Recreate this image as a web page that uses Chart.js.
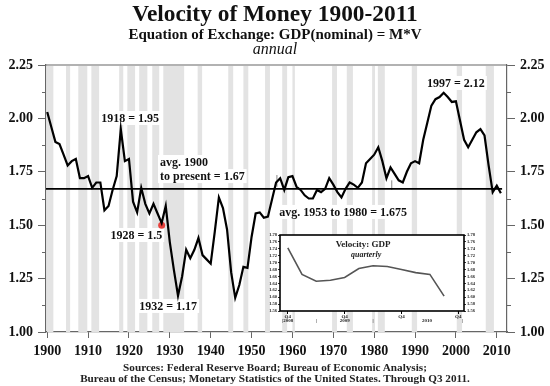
<!DOCTYPE html>
<html><head><meta charset="utf-8">
<script src="https://cdn.jsdelivr.net/npm/chart.js@4.4.0/dist/chart.umd.min.js"></script>
<style>
html,body{margin:0;padding:0;background:#fff;}
#wrap{position:relative;width:550px;height:386px;overflow:hidden;font-family:"Liberation Serif","Times New Roman",serif;color:#111;}
#main{position:absolute;left:0;top:0;}
#inset{position:absolute;left:258px;top:230px;}
.t{position:absolute;left:0;width:550px;text-align:center;white-space:nowrap;}
</style></head><body>
<div id="wrap">
<canvas id="main" width="550" height="386"></canvas>
<canvas id="inset" width="228" height="103"></canvas>
<div class="t" style="top:1.5px;font-size:23.4px;line-height:23.4px;font-weight:bold;">Velocity of Money 1900-2011</div>
<div class="t" style="top:27px;font-size:15px;line-height:15px;font-weight:bold;">Equation of Exchange: GDP(nominal) = M*V</div>
<div class="t" style="top:41px;font-size:16px;line-height:16px;font-style:italic;">annual</div>
<div class="t" style="top:361.6px;font-size:11.2px;line-height:11.2px;font-weight:bold;color:#222;">Sources: Federal Reserve Board; Bureau of Economic Analysis;</div>
<div class="t" style="top:372.6px;font-size:11.2px;line-height:11.2px;font-weight:bold;color:#222;">Bureau of the Census; Monetary Statistics of the United States. Through Q3 2011.</div>
</div>
<script>
// ---------- DATA ----------
const years = [
 1900,1901,1902,1903,1904,1905,1906,1907,1908,1909,
 1910,1911,1912,1913,1914,1915,1916,1917,1918,1919,
 1920,1921,1922,1923,1924,1925,1926,1927,1928,1929,
 1930,1931,1932,1933,1934,1935,1936,1937,1938,1939,
 1940,1941,1942,1943,1944,1945,1946,1947,1948,1949,
 1950,1951,1952,1953,1954,1955,1956,1957,1958,1959,
 1960,1961,1962,1963,1964,1965,1966,1967,1968,1969,
 1970,1971,1972,1973,1974,1975,1976,1977,1978,1979,
 1980,1981,1982,1983,1984,1985,1986,1987,1988,1989,
 1990,1991,1992,1993,1994,1995,1996,1997,1998,1999,
 2000,2001,2002,2003,2004,2005,2006,2007,2008,2009,
 2010,2011];
const velocity = [
 2.03,1.96,1.89,1.88,1.83,1.78,1.80,1.81,1.72,1.72,
 1.73,1.675,1.70,1.70,1.57,1.59,1.665,1.73,1.95,1.80,
 1.81,1.61,1.56,1.675,1.60,1.555,1.60,1.555,1.51,1.59,
 1.42,1.29,1.17,1.26,1.385,1.345,1.385,1.44,1.36,1.34,
 1.32,1.47,1.63,1.58,1.48,1.28,1.16,1.22,1.305,1.30,
 1.445,1.555,1.56,1.535,1.54,1.62,1.70,1.72,1.665,1.725,
 1.73,1.68,1.665,1.64,1.625,1.625,1.665,1.655,1.67,1.72,
 1.69,1.655,1.63,1.67,1.70,1.69,1.675,1.70,1.79,1.81,
 1.83,1.865,1.80,1.72,1.77,1.74,1.71,1.70,1.75,1.79,
 1.80,1.79,1.90,1.98,2.06,2.09,2.10,2.12,2.10,2.077,
 2.08,1.99,1.90,1.865,1.90,1.935,1.95,1.92,1.78,1.655,
 1.685,1.65];
const avgValue = 1.67;
const avgSpan = [1899.7, 2011.3];
const highlightPoint = [1928, 1.5];
const markerSegments = [[1956.2, 1.68, 1.735], [1984.3, 1.665, 1.71]];
const recessions = [
 [1899.8,1901.5],[1904.6,1905.6],[1907.6,1909.8],[1910.8,1912.7],[1917.6,1918.6],
 [1919.6,1921.5],[1922.5,1924.5],[1925.7,1927.4],[1928.4,1933.5],[1936.8,1937.9],
 [1944.3,1945.5],[1948.0,1949.2],[1953.3,1954.5],[1957.5,1958.7],[1960.0,1960.6],
 [1969.7,1970.9],[1973.3,1974.8],[1979.5,1980.2],[1980.9,1982.6],[1989.2,1990.5],
 [2000.2,2001.5],[2007.3,2009.3]];
const xTicks = [1900,1910,1920,1930,1940,1950,1960,1970,1980,1990,2000,2010];
const yTicks = [1.00,1.25,1.50,1.75,2.00,2.25];
const yMinorTicks = [1.125,1.375,1.625,1.875,2.125];

const insetQuarters = [0,1,2,3,4,5,6,7,8,9,10,11];
const insetVelocity = [1.743,1.666,1.646,1.649,1.657,1.683,1.691,1.689,1.680,1.671,1.666,1.603];
const insetYTicks = [1.56,1.58,1.60,1.62,1.64,1.66,1.68,1.70,1.72,1.74,1.76,1.78];
const insetXTicks = [0,4,8,12];
const insetXTickLabel = 'Q4';
const insetYearLabels = [['|2008',0],['|',2],['2009',4],['|',6],['2010',9.8],['|',12.3]];

// ---------- LABELS (placed in data coordinates) ----------
const annotations = [
 {text:'1918 = 1.95', x:1920.3, y:2.002, align:'center'},
 {text:'avg. 1900', x:1927.6, y:1.796, align:'left'},
 {text:'to present = 1.67', x:1927.6, y:1.730, align:'left'},
 {text:'1928 = 1.5', x:1921.8, y:1.454, align:'center'},
 {text:'1932 = 1.17', x:1929.6, y:1.122, align:'center'},
 {text:'avg. 1953 to 1980 = 1.675', x:1972.4, y:1.562, align:'center'},
 {text:'1997 = 2.12', x:2000.0, y:2.166, align:'center'}
];

const SERIF = '"Liberation Serif","Times New Roman",serif';
const AXIS = '#666';

const mainPlugin = {
  id:'mainDecor',
  beforeDatasetsDraw(chart){
    const {ctx, chartArea:a, scales:{x,y}} = chart;
    ctx.save();
    ctx.fillStyle = '#e3e3e3';
    recessions.forEach(([s,e])=>{
      const x0 = Math.max(x.getPixelForValue(s), a.left+1);
      const x1 = Math.min(x.getPixelForValue(e), a.right-1);
      ctx.fillRect(x0, a.top+1, x1-x0, a.bottom-a.top-1);
    });
    ctx.strokeStyle = AXIS; ctx.lineWidth = 1.2;
    ctx.beginPath(); ctx.moveTo(a.left, a.top); ctx.lineTo(a.right, a.top); ctx.stroke();
    ctx.lineWidth = 1;
    yMinorTicks.forEach(v=>{
      const py = Math.round(y.getPixelForValue(v))+0.5;
      ctx.beginPath(); ctx.moveTo(a.left-4, py); ctx.lineTo(a.left, py); ctx.stroke();
      ctx.beginPath(); ctx.moveTo(a.right, py); ctx.lineTo(a.right+4, py); ctx.stroke();
    });
    ctx.font = 'bold 12px ' + SERIF;
    ctx.textBaseline = 'middle';
    annotations.forEach(an=>{
      const w = ctx.measureText(an.text).width;
      const px = x.getPixelForValue(an.x), py = y.getPixelForValue(an.y);
      const left = an.align==='center' ? px - w/2 : px;
      ctx.fillStyle = '#fff';
      ctx.fillRect(left-2, py-7, w+4, 14);
      ctx.fillStyle = '#111';
      ctx.textAlign = 'left';
      ctx.fillText(an.text, left, py+0.5);
    });
    ctx.restore();
  }
};

const tickFont = {family:SERIF, size:14, weight:'bold'};
new Chart(document.getElementById('main'), {
  type:'line',
  data:{datasets:[
    {data: years.map((yr,i)=>({x:yr, y:velocity[i]})), borderColor:'#000', borderWidth:2.2, pointRadius:0, tension:0},
    {data: avgSpan.map(v=>({x:v, y:avgValue})), borderColor:'#000', borderWidth:1.6, pointRadius:0},
    ...markerSegments.map(([xx,a,b])=>({data:[{x:xx,y:a},{x:xx,y:b}], borderColor:'#888', borderWidth:1, pointRadius:0})),
    {data:[{x:highlightPoint[0], y:highlightPoint[1]}], showLine:false, pointRadius:3.5, pointBackgroundColor:'#e8413c', pointBorderColor:'#e8413c', borderWidth:0}
  ]},
  options:{
    responsive:false, animation:false, devicePixelRatio:1,
    layout:{padding:{top:65,left:0,right:0,bottom:0}},
    plugins:{legend:{display:false}, tooltip:{enabled:false}, title:{display:false}},
    scales:{
      x:{type:'linear', min:1899.7, max:2012.5,
         afterBuildTicks:s=>{s.ticks = xTicks.map(v=>({value:v}));},
         afterFit:s=>{s.height = 54;},
         grid:{drawOnChartArea:false, drawTicks:true, tickLength:6, color:AXIS, lineWidth:1},
         border:{display:true, color:AXIS, width:1.2},
         ticks:{font:tickFont, color:'#111', padding:5, maxRotation:0, autoSkip:false, callback:v=>String(v)}},
      y:{type:'linear', position:'left', min:1, max:2.25,
         afterBuildTicks:s=>{s.ticks = yTicks.map(v=>({value:v}));},
         afterFit:s=>{s.width = 46;},
         grid:{drawOnChartArea:false, drawTicks:true, tickLength:8, color:AXIS, lineWidth:1},
         border:{display:true, color:AXIS, width:1.2},
         ticks:{font:tickFont, color:'#111', padding:5, callback:v=>Number(v).toFixed(2)}},
      y2:{type:'linear', position:'right', min:1, max:2.25,
         afterBuildTicks:s=>{s.ticks = yTicks.map(v=>({value:v}));},
         afterFit:s=>{s.width = 43;},
         grid:{drawOnChartArea:false, drawTicks:true, tickLength:8, color:AXIS, lineWidth:1},
         border:{display:true, color:AXIS, width:1.2},
         ticks:{font:tickFont, color:'#111', padding:5, callback:v=>Number(v).toFixed(2)}}
    }
  },
  plugins:[mainPlugin]
});

// ---------- INSET ----------
const insetPlugin = {
  id:'insetDecor',
  beforeDatasetsDraw(chart){
    const {ctx, chartArea:a, scales:{x}} = chart;
    ctx.save();
    ctx.fillStyle = '#fff';
    ctx.fillRect(a.left, a.top, a.right-a.left, a.bottom-a.top);
    ctx.fillStyle = '#222';
    ctx.textAlign = 'center'; ctx.textBaseline = 'middle';
    const cx = x.getPixelForValue(5.3);
    ctx.font = 'bold 9px ' + SERIF;
    ctx.fillText('Velocity: GDP', cx, a.top+9.5);
    ctx.font = 'italic bold 8px ' + SERIF;
    ctx.fillText('quarterly', cx+3, a.top+19.5);
    ctx.font = 'bold 5px ' + SERIF;
    insetYearLabels.forEach(([t,q])=>{
      ctx.fillText(t, x.getPixelForValue(q), a.bottom+10);
    });
    ctx.restore();
  },
  afterDraw(chart){
    const {ctx, chartArea:a} = chart;
    ctx.save();
    ctx.strokeStyle = '#000'; ctx.lineWidth = 1.6;
    ctx.strokeRect(a.left, a.top, a.right-a.left, a.bottom-a.top);
    ctx.restore();
  }
};
const insetFont = {family:SERIF, size:4.5, weight:'bold'};
new Chart(document.getElementById('inset'), {
  type:'line',
  data:{datasets:[{data: insetQuarters.map((q,i)=>({x:q, y:insetVelocity[i]})), borderColor:'#555', borderWidth:1.6, pointRadius:0, tension:0}]},
  options:{
    responsive:false, animation:false, devicePixelRatio:1,
    layout:{padding:{top:5,left:0,right:0,bottom:0}},
    plugins:{legend:{display:false}, tooltip:{enabled:false}},
    scales:{
      x:{type:'linear', min:-0.55, max:12.4,
         afterBuildTicks:s=>{s.ticks = insetXTicks.map(v=>({value:v}));},
         afterFit:s=>{s.height = 22;},
         grid:{drawOnChartArea:false, drawTicks:true, tickLength:3, color:'#000', lineWidth:1},
         border:{display:false},
         ticks:{font:{family:SERIF,size:5,weight:'bold'}, color:'#222', padding:0, maxRotation:0, autoSkip:false, callback:()=>insetXTickLabel}},
      y:{type:'linear', position:'left', min:1.56, max:1.78,
         afterBuildTicks:s=>{s.ticks = insetYTicks.map(v=>({value:v}));},
         afterFit:s=>{s.width = 22;},
         grid:{drawOnChartArea:false, drawTicks:true, tickLength:2, color:'#000', lineWidth:0.8},
         border:{display:false},
         ticks:{font:insetFont, color:'#222', padding:1, autoSkip:false, callback:v=>Number(v).toFixed(2)}},
      y2:{type:'linear', position:'right', min:1.56, max:1.78,
         afterBuildTicks:s=>{s.ticks = insetYTicks.map(v=>({value:v}));},
         afterFit:s=>{s.width = 22;},
         grid:{drawOnChartArea:false, drawTicks:true, tickLength:2, color:'#000', lineWidth:0.8},
         border:{display:false},
         ticks:{font:insetFont, color:'#222', padding:1, autoSkip:false, callback:v=>Number(v).toFixed(2)}}
    }
  },
  plugins:[insetPlugin]
});
</script>
</body></html>
